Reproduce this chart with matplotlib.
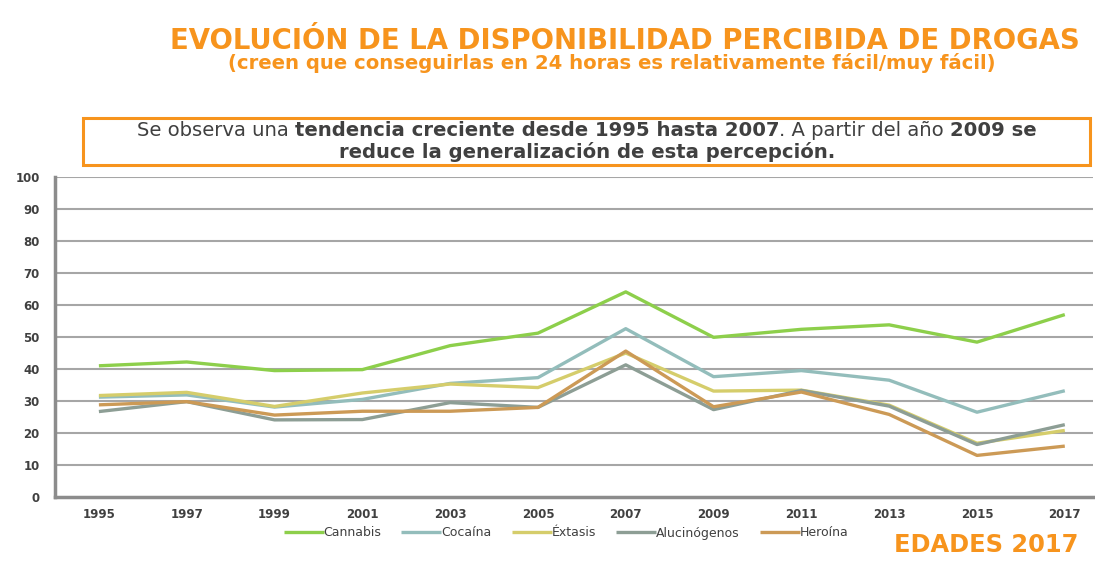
import matplotlib
matplotlib.use("Agg")
import matplotlib.pyplot as plt
from matplotlib.patches import Rectangle

# data
years = ["1995", "1997", "1999", "2001", "2003", "2005", "2007", "2009", "2011", "2013", "2015", "2017"]
cannabis = [41.0, 42.2, 39.5, 39.8, 47.3, 51.2, 64.1, 49.9, 52.4, 53.8, 48.4, 57.0]
cocaina = [31.2, 31.9, 28.1, 30.5, 35.5, 37.3, 52.6, 37.6, 39.5, 36.5, 26.5, 33.2]
extasis = [31.7, 32.7, 28.3, 32.5, 35.3, 34.2, 45.0, 33.1, 33.4, 28.7, 16.8, 20.8]
alucinogenos = [26.7, 29.8, 24.1, 24.2, 29.5, 28.0, 41.3, 27.3, 33.3, 28.4, 16.4, 22.6]
heroina = [28.8, 29.8, 25.6, 26.8, 26.8, 28.0, 45.6, 28.2, 32.8, 25.8, 13.0, 15.9]

series = [("Cannabis", cannabis, "#8dcf4b"),
          ("Cocaína", cocaina, "#93bdbb"),
          ("Éxtasis", extasis, "#d5cd6b"),
          ("Alucinógenos", alucinogenos, "#8d9e95"),
          ("Heroína", heroina, "#cc9a56")]

orange = "#f7941d"
dark = "#404040"

fig = plt.figure(figsize=(10.95, 5.61), dpi=100)
fig.patch.set_facecolor("white")
W, H = 1095.0, 561.0

ax = fig.add_axes([55 / W, 1 - 497 / H, (1093 - 55) / W, (497 - 177) / H])

x = list(range(len(years)))
for name, vals, col in series:
    ax.plot(x, vals, color=col, lw=2.4, label=name, solid_capstyle="butt")

ax.set_xlim(-0.5, (1093 - 99) / 87.8)
ax.set_ylim(0, 100)
ax.set_yticks(range(0, 101, 10))
ax.set_xticks(x)
ax.set_xticklabels(years)
for y in range(10, 101, 10):
    ax.axhline(y, color="#a6a6a6", lw=1.5, zorder=0)
for s in ["top", "right"]:
    ax.spines[s].set_visible(False)
for s in ["left", "bottom"]:
    ax.spines[s].set_color("#8c8c8c")
    ax.spines[s].set_linewidth(2.5)
ax.tick_params(axis="both", length=0, labelsize=8.5, labelcolor=dark)
ax.tick_params(axis="y", pad=11)
ax.tick_params(axis="x", pad=8)
for lab in ax.get_xticklabels() + ax.get_yticklabels():
    lab.set_fontweight("bold")

fig.legend(loc="center", bbox_to_anchor=(566 / W, 1 - 533 / H), ncol=5, frameon=False,
           prop={"size": 9}, handlelength=3.2, handletextpad=0.0,
           columnspacing=1.6, labelcolor=dark)

fig.canvas.draw()
r = fig.canvas.get_renderer()


def fit(t, width):
    # scale font so the text spans the given pixel width
    w = t.get_window_extent(r).width
    t.set_fontsize(t.get_fontsize() * width / w)


t1 = fig.text(1080 / W, 1 - 41 / H, "EVOLUCIÓN DE LA DISPONIBILIDAD PERCIBIDA DE DROGAS",
              color=orange, fontsize=20, fontweight="bold", ha="right", va="center")
fit(t1, 910)
t2 = fig.text(612 / W, 1 - 63 / H, "(creen que conseguirlas en 24 horas es relativamente fácil/muy fácil)",
              color=orange, fontsize=14, fontweight="bold", ha="center", va="center")
fit(t2, 770)
t3 = fig.text(1078 / W, 1 - 545 / H, "EDADES 2017", color=orange, fontsize=16,
              fontweight="bold", ha="right", va="center")
fit(t3, 185)

# framed note
fig.patches.append(Rectangle((83 / W, 1 - 165 / H), (1090 - 83) / W, (165 - 118) / H,
                             transform=fig.transFigure, fill=True, facecolor="white",
                             edgecolor=orange, lw=2.2))


def rich_line(parts, xc, yc, size):
    texts = [fig.text(0, yc, t, fontsize=size, color=dark, va="center",
                      fontweight="bold" if b else "normal")
             for t, b in parts]
    fig.canvas.draw()
    widths = [t.get_window_extent(r).width / W for t in texts]
    xpos = xc - sum(widths) / 2
    for t, w in zip(texts, widths):
        t.set_x(xpos)
        xpos += w


line1 = [("Se observa una ", False), ("tendencia creciente desde 1995 hasta 2007", True),
         (". A partir del año ", False), ("2009 se", True)]
line2 = [("reduce la generalización de esta percepción.", True)]

# measure line 1 at a trial size, then set the size to match the reference width
probe = [fig.text(0, 0, t, fontsize=10, fontweight="bold" if b else "normal") for t, b in line1]
fig.canvas.draw()
pw = sum(p.get_window_extent(r).width for p in probe)
for p in probe:
    p.remove()
size = 10 * 900 / pw

rich_line(line1, 587 / W, 1 - 131 / H, size)
rich_line(line2, 587 / W, 1 - 152 / H, size)

fig.savefig("out.png", dpi=100, facecolor="white")
